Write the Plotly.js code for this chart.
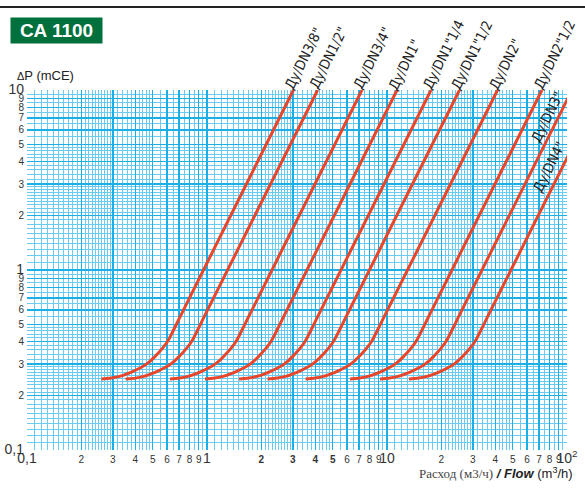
<!DOCTYPE html>
<html><head><meta charset="utf-8">
<script src="https://cdn.plot.ly/plotly-3.0.1.min.js"></script>
<style>html,body{margin:0;padding:0;background:#fff}#chart{width:585px;height:490px}</style>
</head><body><div id="chart"></div>
<script>
// ---- data ----
const curveNames = ['Ду/DN3/8"', 'Ду/DN1/2"', 'Ду/DN3/4"', 'Ду/DN1"', 'Ду/DN1"1/4',
                    'Ду/DN1"1/2', 'Ду/DN2"', 'Ду/DN2"1/2', 'Ду/DN3"', 'Ду/DN4"'];
// pressure drop (mCE) at the points
const dp = [0.248, 0.254, 0.271, 0.300, 0.337, 0.393, 0.464, 0.570, 10];
// flow (m3/h) at those points, one array per valve size
const qDN3_8  = [0.259, 0.314, 0.381, 0.461, 0.524, 0.596, 0.652, 0.722, 3.02];
const qDN1_2  = [0.353, 0.428, 0.518, 0.628, 0.713, 0.811, 0.887, 0.982, 4.12];
const qDN3_4  = [0.623, 0.755, 0.914, 1.108, 1.259, 1.431, 1.565, 1.734, 7.26];
const qDN1    = [0.975, 1.181, 1.431, 1.734, 1.970, 2.239, 2.449, 2.713, 11.37];
const qDN1_14 = [1.507, 1.826, 2.212, 2.680, 3.046, 3.461, 3.785, 4.193, 17.57];
const qDN1_12 = [2.168, 2.627, 3.182, 3.855, 4.382, 4.979, 5.446, 6.033, 25.28];
const qDN2    = [3.528, 4.274, 5.178, 6.274, 7.130, 8.103, 8.862, 9.817, 41.13];
const qDN2_12 = [6.229, 7.546, 9.143, 11.08, 12.59, 14.31, 15.65, 17.33, 72.6];
const qDN3    = [9.145, 11.08, 13.42, 16.26, 18.48, 21.00, 22.97, 25.45, 106.6];
const qDN4    = [13.25, 16.05, 19.45, 23.56, 26.78, 30.43, 33.28, 36.87, 154.5];
const flows = [qDN3_8, qDN1_2, qDN3_4, qDN1, qDN1_14, qDN1_12, qDN2, qDN2_12, qDN3, qDN4];

const BIG = s => "<span style='font-size:14px'>" + s + "</span>";
const xTickVals = [0.1,0.2,0.3,0.4,0.5,0.6,0.7,0.8,0.9,1,2,3,4,5,6,7,8,9,10,20,30,40,50,60,70,80,90,100];
const xTickText = [BIG('0,1'),'2','3','4','5','6','7','8','9',BIG('1'),
  '<b>2</b>','<b>3</b>','<b>4</b>','<b>5</b>','6','7','8','9',BIG('10'),
  '2','3','4','5','6','7','8','9',BIG('10<sup>2</sup>')];
const yTickVals = [0.1,0.2,0.3,0.4,0.5,0.6,0.7,0.8,0.9,1,2,3,4,5,6,7,8,9,10];
const yTickText = [BIG('0,1'),'2','3','4','5','6','7','8','9',BIG('1'),
  '2','3','4','5','6','7','8','9',BIG('10')];

// fine log-paper grid
function fineGrid(decades){
  const v = [];
  decades.forEach(d => {
    for (let m = 11; m < 30; m++) if (m % 10) v.push(d * m / 10);
    for (let m = 32; m < 50; m += 2) if (m % 10) v.push(d * m / 10);
    for (let m = 55; m < 100; m += 10) v.push(d * m / 10);
  });
  return v;
}
const xMinor = fineGrid([0.1, 1, 10]);
const yMinor = fineGrid([0.1, 1]);

const RED = '#e8462b';
const traces = flows.map((q, i) => ({
  x: q, y: dp, type: 'scatter', mode: 'lines', name: curveNames[i],
  line: {color: RED, width: 3, shape: 'spline', smoothing: 1.2},
  hoverinfo: 'skip'
}));

const labelFont = {family: 'Liberation Sans Narrow, Arial Narrow, DejaVu Sans Condensed, sans-serif', size: 14, color: '#222'};
const ann = [];
curveNames.forEach((n, i) => {
  if (i < 8) {
    const L = n.length * 7.4;
    const along = L / 2;
    ann.push({x: Math.log10(flows[i][8]), y: 1, xref: 'x', yref: 'y', text: n, showarrow: false,
      textangle: -63.4, font: labelFont, xanchor: 'center', yanchor: 'middle',
      xshift: along * 0.447 - 4.5, yshift: along * 0.894 + 2.2});
  }
});
ann.push({x: 1.889, y: 0.85, xref: 'x', yref: 'y', text: curveNames[8], showarrow: false,
  textangle: -63.4, font: labelFont});
ann.push({x: 1.9, y: 0.572, xref: 'x', yref: 'y', text: curveNames[9], showarrow: false,
  textangle: -63.4, font: labelFont});
// title box
ann.push({x: -0.0315, y: 1.2028, xref: 'paper', yref: 'paper', xanchor: 'left', yanchor: 'top',
  text: '<b>CA 1100</b>', showarrow: false, bgcolor: '#00703c', width: 91, height: 25, borderpad: 0,
  font: {family: 'Liberation Sans, Arial, sans-serif', size: 19, color: '#fff'}});
// y title
ann.push({x: -0.0222, y: 1.039, xref: 'paper', yref: 'paper', xanchor: 'left', yanchor: 'middle',
  text: "<span style='font-size:11px'>Δ</span>P (mCE)", showarrow: false,
  font: {family: 'Liberation Sans, Arial, sans-serif', size: 13, color: '#222'}});
// x title
ann.push({x: 1.0148, y: -0.064, xref: 'paper', yref: 'paper', xanchor: 'right', yanchor: 'middle',
  text: "<span style='font-family:Liberation Serif, Times New Roman, serif;color:#444'>Расход (м3/ч)</span> <b><i>/ Flow</i></b> (m<sup>3</sup>/h)",
  showarrow: false, font: {family: 'Liberation Sans, Arial, sans-serif', size: 13, color: '#222'}});

const axisCommon = {
  type: 'log', showline: false, zeroline: false, ticks: '',
  tickmode: 'array', gridcolor: '#1caee7', gridwidth: 1.3, tickangle: 0,
  tickfont: {family: 'Liberation Sans, Arial, sans-serif', size: 10, color: '#333'},
};
const layout = {
  width: 585, height: 490,
  margin: {l: 27, r: 18, t: 90, b: 40},
  paper_bgcolor: '#fff', plot_bgcolor: '#fff',
  showlegend: false,
  xaxis: Object.assign({}, axisCommon, {range: [-1, 2], tickvals: xTickVals, ticktext: xTickText, ticklabelstandoff: 2,
    minor: {tickmode: 'array', tickvals: xMinor, showgrid: true, gridcolor: '#6ccbf1', gridwidth: 1, ticks: ''}}),
  yaxis: Object.assign({}, axisCommon, {range: [-1, 1], tickvals: yTickVals, ticktext: yTickText, ticklabelstandoff: 2,
    minor: {tickmode: 'array', tickvals: yMinor, showgrid: true, gridcolor: '#6ccbf1', gridwidth: 1, ticks: ''}}),
  annotations: ann,
  shapes: [{type: 'line', xref: 'paper', yref: 'paper', x0: -0.06, x1: 1.04, y0: 1.2306, y1: 1.2306,
    line: {color: '#222', width: 2}}]
};
Plotly.newPlot('chart', traces, layout, {displayModeBar: false, staticPlot: true});
</script>
</body></html>
